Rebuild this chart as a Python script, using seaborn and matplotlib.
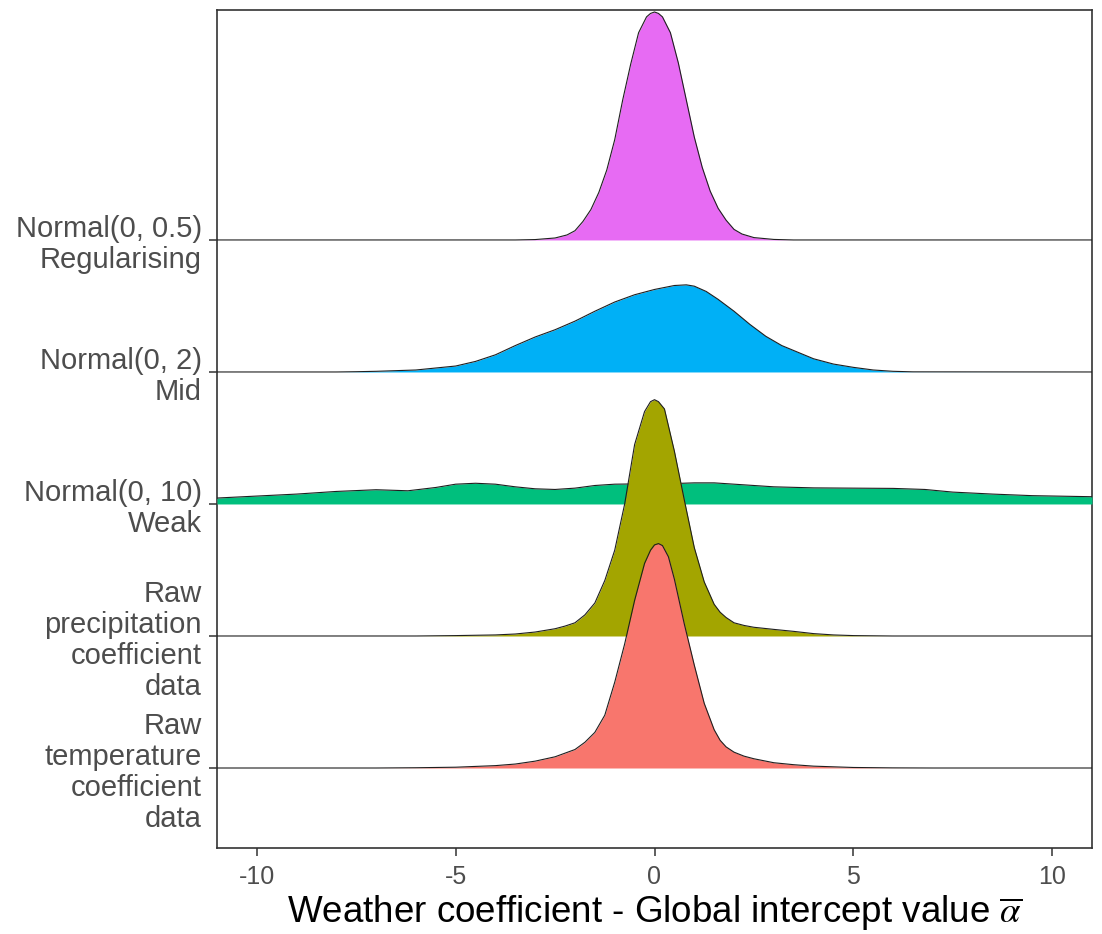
import numpy as np
import pandas as pd
import matplotlib
matplotlib.use("Agg")
import matplotlib.pyplot as plt
import seaborn as sns

# Ridge order from bottom (y = 1) to top (y = 5)
groups = [
    "Raw\ntemperature\ncoefficient\ndata",
    "Raw\nprecipitation\ncoefficient\ndata",
    "Normal(0, 10)\nWeak",
    "Normal(0, 2)\nMid",
    "Normal(0, 0.5)\nRegularising",
]
fills = ["#F8766D", "#A3A500", "#00BF7D", "#00B0F6", "#E76BF3"]

# Density heights (in ridge units) at the listed coefficient values
temp_x = [-11, -7, -6, -5, -4, -3.5, -3, -2.5, -2, -1.75, -1.5, -1.25, -1.0, -0.75, -0.5,
          -0.25, -0.1, 0.0, 0.1, 0.2, 0.35, 0.5, 0.75, 1.0, 1.25, 1.5, 1.65, 1.8, 2.0,
          2.25, 2.5, 3.0, 3.5, 4.0, 5.0, 6.0, 7.0, 11]
temp_h = [0, 0, 0.002, 0.006, 0.018, 0.03, 0.052, 0.085, 0.14, 0.195, 0.27, 0.40, 0.65,
          0.94, 1.27, 1.55, 1.65, 1.69, 1.70, 1.685, 1.60, 1.43, 1.09, 0.78, 0.49, 0.29,
          0.21, 0.16, 0.12, 0.09, 0.07, 0.04, 0.025, 0.014, 0.004, 0.001, 0, 0]

precip_x = [-11, -6, -5, -4, -3.5, -3, -2.5, -2.25, -2, -1.75, -1.5, -1.25, -1.0, -0.75,
            -0.5, -0.25, -0.1, 0.0, 0.1, 0.25, 0.5, 0.75, 1.0, 1.25, 1.5, 1.65, 1.8, 2.0,
            2.25, 2.5, 3.0, 3.5, 4.0, 4.5, 5.0, 6.0, 11]
precip_h = [0, 0, 0.003, 0.008, 0.015, 0.03, 0.055, 0.075, 0.10, 0.16, 0.25, 0.42, 0.65,
            1.0, 1.45, 1.70, 1.775, 1.79, 1.775, 1.72, 1.40, 1.03, 0.67, 0.41, 0.24, 0.18,
            0.14, 0.10, 0.08, 0.066, 0.05, 0.035, 0.018, 0.008, 0.003, 0, 0]

weak_x = [-11, -10, -9, -8, -7, -6.2, -5.5, -5, -4.5, -4, -3.5, -3, -2.5, -2, -1.5, -1,
          -0.5, 0, 0.5, 1.0, 1.5, 2, 2.5, 3, 4, 5, 6, 6.8, 7.5, 8.5, 9.5, 11]
weak_h = [0.045, 0.06, 0.075, 0.095, 0.108, 0.10, 0.125, 0.15, 0.157, 0.15, 0.13, 0.115,
          0.11, 0.12, 0.14, 0.15, 0.152, 0.152, 0.155, 0.16, 0.16, 0.15, 0.14, 0.13,
          0.122, 0.12, 0.118, 0.11, 0.09, 0.075, 0.063, 0.055]

mid_x = [-11, -8, -7.5, -7, -6, -5.5, -5, -4.5, -4, -3.5, -3, -2.5, -2, -1.5, -1, -0.5,
         0, 0.5, 0.8, 1.0, 1.3, 1.6, 2.0, 2.4, 2.8, 3.2, 3.6, 4.0, 4.5, 5.0, 5.5, 6.0,
         6.5, 11]
mid_h = [0, 0, 0.002, 0.005, 0.015, 0.03, 0.045, 0.08, 0.13, 0.20, 0.265, 0.32, 0.385,
         0.46, 0.53, 0.585, 0.625, 0.655, 0.66, 0.65, 0.61, 0.55, 0.46, 0.36, 0.27, 0.20,
         0.15, 0.10, 0.06, 0.035, 0.015, 0.005, 0.001, 0]

reg_x = [-11, -3.5, -3.0, -2.5, -2.2, -2.0, -1.8, -1.6, -1.4, -1.2, -1.0, -0.8, -0.6,
         -0.4, -0.2, -0.1, 0.0, 0.1, 0.2, 0.4, 0.6, 0.8, 1.0, 1.2, 1.4, 1.6, 1.8, 2.0,
         2.2, 2.5, 3.0, 3.5, 11]
reg_h = [0, 0, 0.003, 0.015, 0.038, 0.07, 0.14, 0.23, 0.36, 0.53, 0.76, 1.06, 1.33,
         1.57, 1.69, 1.716, 1.727, 1.716, 1.69, 1.57, 1.34, 1.06, 0.78, 0.55, 0.37, 0.24,
         0.15, 0.08, 0.045, 0.018, 0.004, 0, 0]

xs = [temp_x, precip_x, weak_x, mid_x, reg_x]
hs = [temp_h, precip_h, weak_h, mid_h, reg_h]

frames = []
for i, (g, x, h) in enumerate(zip(groups, xs, hs)):
    frames.append(pd.DataFrame({"group": g, "pos": i + 1, "x": x, "h": h}))
df = pd.concat(frames, ignore_index=True)
df["top"] = df["pos"] + df["h"]

sns.set_theme(style="ticks")
plt.rcParams["font.family"] = ["Liberation Sans", "DejaVu Sans"]
plt.rcParams["mathtext.fontset"] = "stix"

fig = plt.figure(figsize=(11.02, 9.34), dpi=100)
ax = fig.add_axes([217 / 1102, 1 - 848 / 934, (1092 - 217) / 1102, (848 - 10) / 934])

# Draw the top ridge first so lower ridges overlap the ones above them
for i in range(len(groups) - 1, -1, -1):
    sub = df[df["group"] == groups[i]]
    z = 10 + (len(groups) - i) * 2
    ax.fill_between(sub["x"], sub["pos"], sub["top"], color=fills[i], lw=0, zorder=z)
    sns.lineplot(data=sub, x="x", y="top", ax=ax, color="#1f1f1f", lw=0.8,
                 estimator=None, sort=False, zorder=z + 1)

ax.set_xlim(-11, 11)
ax.set_ylim(0.394, 6.742)
ax.set_xticks([-10, -5, 0, 5, 10])
ax.set_xticklabels(["-10", "-5", "0", "5", "10"])
ax.set_yticks([1, 2, 3, 4, 5])
ax.set_yticklabels(groups, linespacing=1.13, ha="right", multialignment="right")

ax.tick_params(axis="x", labelsize=18, colors="#333333", labelcolor="#4D4D4D",
               length=6, width=1.1, pad=6)
ax.tick_params(axis="y", labelsize=21, colors="#333333", labelcolor="#4D4D4D",
               length=6, width=1.1, pad=5)
for sp in ax.spines.values():
    sp.set_visible(True)
    sp.set_color("#333333")
    sp.set_linewidth(1.2)

ax.set_ylabel("")
ax.set_xlabel(r"Weather coefficient - Global intercept value $\overline{\alpha}$",
              fontsize=26.5, color="black", labelpad=3)

fig.savefig("out.png", dpi=100, facecolor="white")
